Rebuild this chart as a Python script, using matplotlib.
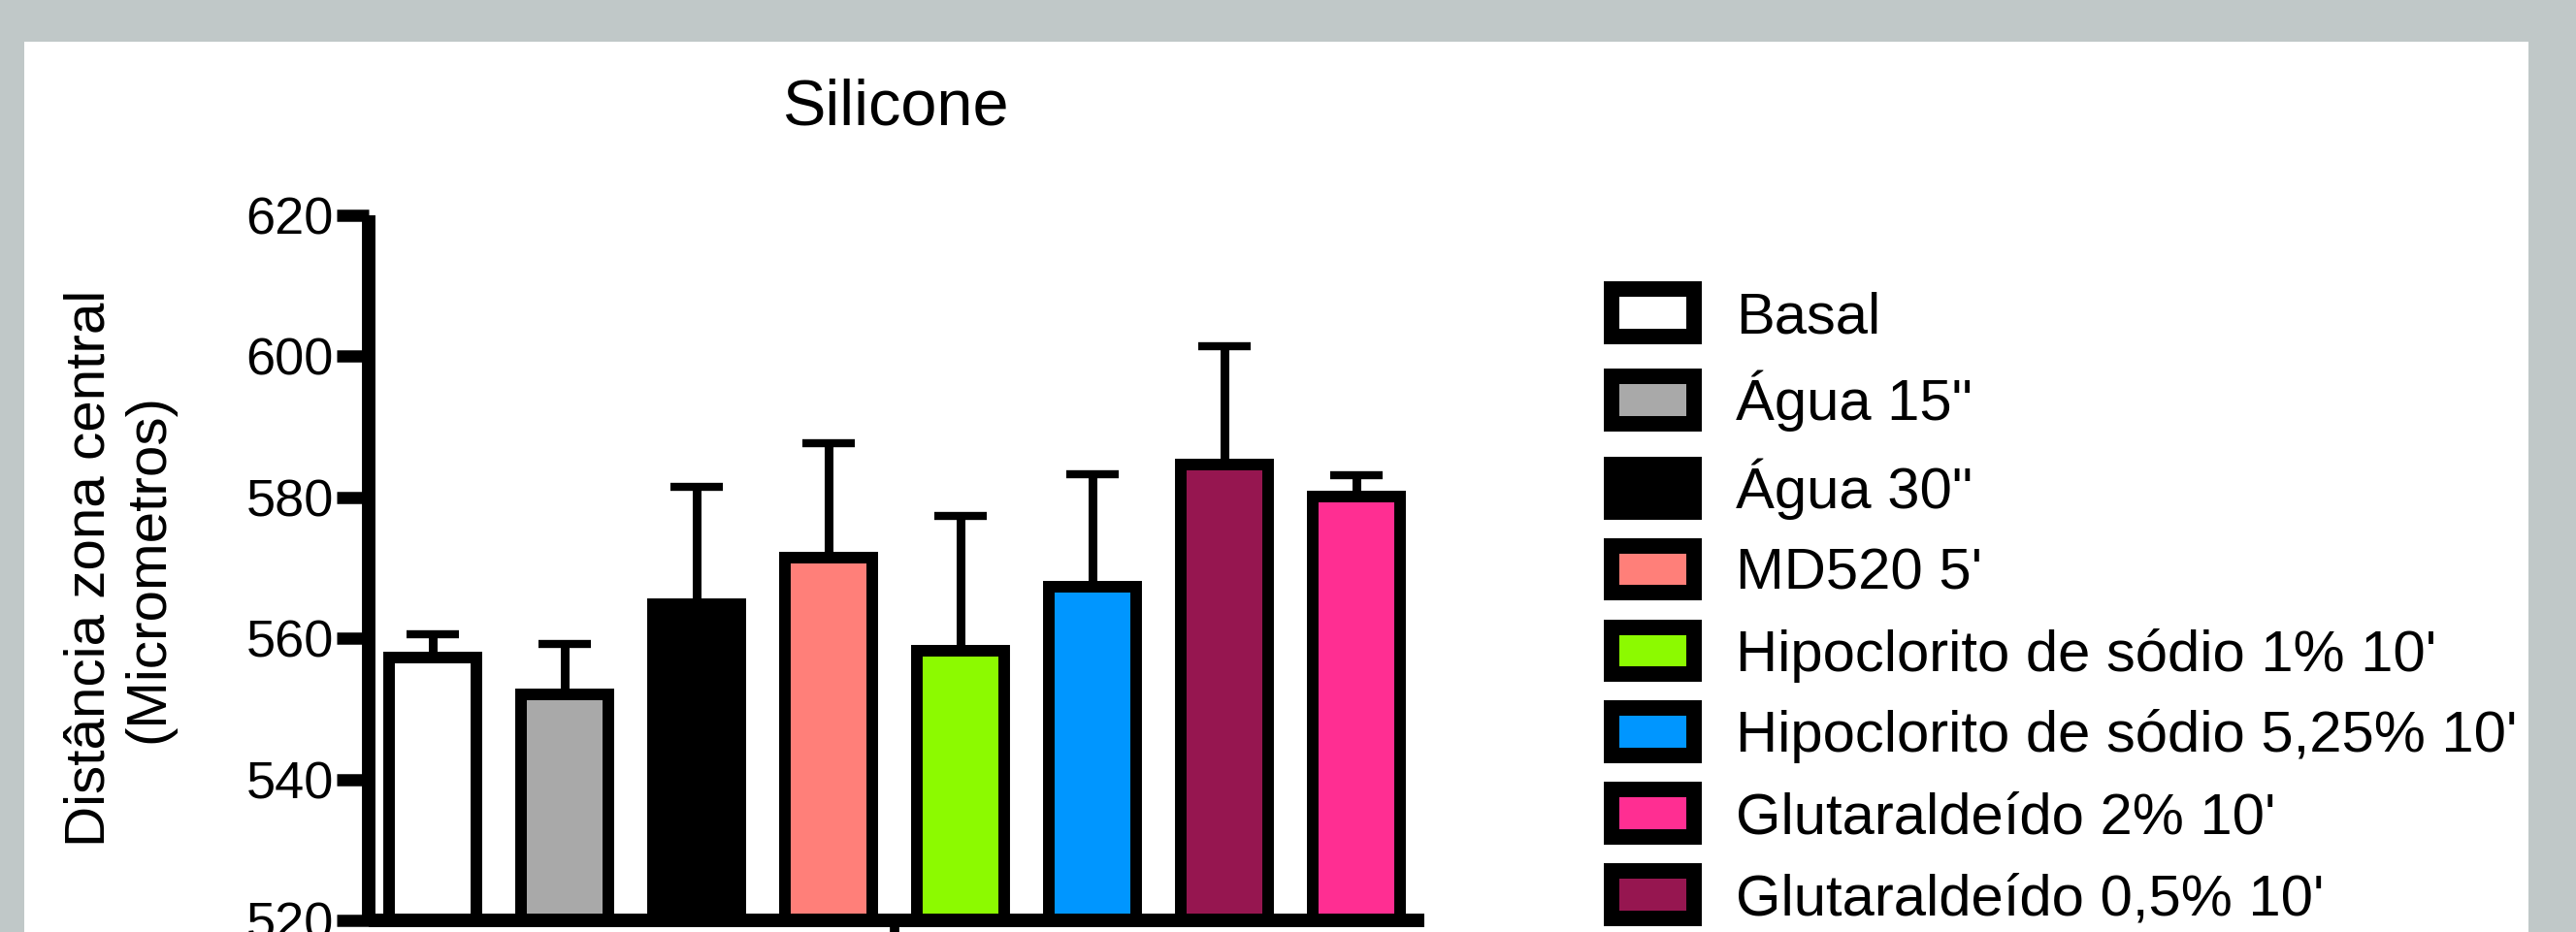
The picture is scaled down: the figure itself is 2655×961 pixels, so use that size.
import numpy as np
import matplotlib
matplotlib.use("Agg")
import matplotlib.pyplot as plt
from matplotlib.patches import Patch, Rectangle

plt.rcParams['font.family'] = ['Liberation Sans', 'DejaVu Sans']

# Groups in plotting order (left to right)
groups = ["Basal", "Água 15\"", "Água 30\"", "MD520 5'",
          "Hipoclorito de sódio 1% 10'", "Hipoclorito de sódio 5,25% 10'",
          "Glutaraldeído 0,5% 10'", "Glutaraldeído 2% 10'"]
means = [557.3, 552.0, 564.8, 571.5, 558.3, 567.3, 584.7, 580.1]
sem = [3.3, 7.2, 16.7, 16.2, 19.0, 16.0, 16.7, 3.0]
colors = ["#ffffff", "#a9a9a9", "#000000", "#ff7f79",
          "#8cfa00", "#0096ff", "#961650", "#ff2e92"]

# Legend order
legend_order = ["Basal", "Água 15\"", "Água 30\"", "MD520 5'",
                "Hipoclorito de sódio 1% 10'", "Hipoclorito de sódio 5,25% 10'",
                "Glutaraldeído 2% 10'", "Glutaraldeído 0,5% 10'"]

yticks = [520, 540, 560, 580, 600, 620]
title = "Silicone"
ylabel = "Distância zona central\n(Micrometros)"

W, H = 2655, 961
fig = plt.figure(figsize=(W / 100, H / 100), dpi=100)
fig.patch.set_facecolor("#c0c8c8")

# white panel behind the chart
fig.patches.append(Rectangle((25 / W, 0), (2606 - 25) / W, 1 - 43 / H,
                             transform=fig.transFigure, facecolor="white",
                             edgecolor="none", zorder=-10))

ax = fig.add_axes([380 / W, 1 - 949 / H, (1468 - 380) / W, (949 - 222) / H])
ax.set_facecolor("none")
ax.set_zorder(1)

x = np.arange(len(groups))
ax.errorbar(x, means, yerr=[np.zeros(len(sem)), sem], fmt="none",
            ecolor="black", elinewidth=6.5, capsize=19.4, capthick=6.0,
            zorder=1)
ax.bar(x, means, width=0.662, color=colors, edgecolor="black",
       linewidth=8.6, zorder=2)

ax.set_ylim(520, 620)
ax.set_xlim(-0.485, 7.515)
ax.set_yticks(yticks)
ax.set_yticklabels([str(t) for t in yticks], fontsize=39)
ax.set_xticks([3.5])
ax.set_xticklabels([""])

for s in ["top", "right"]:
    ax.spines[s].set_visible(False)
for s in ["left", "bottom"]:
    ax.spines[s].set_linewidth(10)
    ax.spines[s].set_zorder(5)
    ax.spines[s].set_capstyle("butt")

ax.tick_params(axis="y", direction="out", length=24, width=9, pad=2)
ax.tick_params(axis="x", direction="out", length=20, width=7)

fig.text(923 / W, 1 - 128 / H, title, fontsize=48, ha="center", va="baseline")
fig.text(123 / W, 1 - 586 / H, ylabel, fontsize=42, rotation=90,
         ha="center", va="center", multialignment="center", linespacing=1.15)

col_map = dict(zip(groups, colors))
handles = [Patch(facecolor=col_map[g], edgecolor="black", linewidth=11.5)
           for g in legend_order]
fig.legend(handles, legend_order, loc="upper left",
           bbox_to_anchor=(1661 / W, 1 - 298 / H), frameon=False,
           fontsize=43, handlelength=1.42, handleheight=0.88,
           handletextpad=0.72, labelspacing=0.45, borderpad=0,
           borderaxespad=0)

fig.savefig("out.png", dpi=100, facecolor=fig.get_facecolor())
